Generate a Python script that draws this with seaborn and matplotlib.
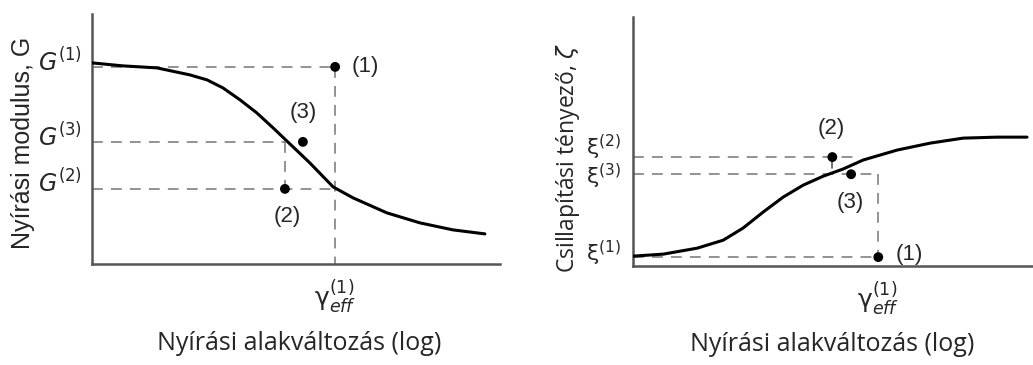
"""
Schematic: shear modulus and damping ratio vs. log shear strain (two panels).
"""

import matplotlib
matplotlib.use("Agg")
import matplotlib.pyplot as plt
import seaborn as sns
import pandas as pd

# Left panel: shear modulus curve (arbitrary units 0-100)
g_x = [0, 7.6, 15.9, 24.0, 28.2, 32.1, 36.3, 40.4, 44.4, 48.0, 53.4, 59.1, 64.0, 72.3, 80.4, 88.5, 96.3]
g_y = [80.4, 79.2, 78.4, 75.6, 73.6, 70.4, 65.6, 60.4, 54.4, 48.8, 40.4, 30.8, 26.4, 20.4, 16.4, 13.6, 12.0]
g_pts_x = [59.6, 47.3, 51.7]          # points (1), (2), (3)
g_pts_y = [78.8, 30.0, 48.8]
g_levels = [78.8, 30.0, 48.8]         # G(1), G(2), G(3)
g_labels = [r"$G^{(1)}$", r"$G^{(2)}$", r"$G^{(3)}$"]

# Right panel: damping ratio curve
d_x = [0, 7.5, 16.0, 22.5, 27.5, 32.5, 37.5, 42.5, 47.5, 52.5, 57.5, 66.0, 74.3, 82.5, 91.0, 98.5]
d_y = [4.0, 4.8, 7.2, 10.4, 15.3, 21.7, 27.7, 32.5, 36.1, 39.0, 42.6, 46.6, 49.4, 51.4, 51.8, 51.8]
d_pts_x = [61.3, 49.8, 54.5]
d_pts_y = [3.6, 43.8, 36.9]
d_levels = [3.6, 43.8, 36.9]
d_labels = [r"$\mathrm{\xi}^{(1)}$", r"$\mathrm{\xi}^{(2)}$", r"$\mathrm{\xi}^{(3)}$"]

pt_names = ["(1)", "(2)", "(3)"]
gamma_label = r"$\mathrm{\gamma}_{\mathit{eff}}^{(1)}$"
xlabel = "Nyírási alakváltozás (log)"

sns.set_theme(style="white")
plt.rcParams["font.family"] = ["Liberation Sans", "DejaVu Sans"]
plt.rcParams["mathtext.fontset"] = "dejavusans"

fig = plt.figure(figsize=(10.33, 3.65), dpi=100)
ax1 = fig.add_axes([0.089, 0.277, 0.395, 0.685])
ax2 = fig.add_axes([0.613, 0.271, 0.387, 0.682])

dash = dict(color="#8a8a8a", lw=1.3, ls=(0, (6, 4.5)), zorder=1)
axis_col = "#555555"

for ax in (ax1, ax2):
    ax.set_xlim(0, 100)
    ax.set_ylim(0, 100)
    ax.set_xticks([])
    ax.set_yticks([])
    for s in ("top", "right"):
        ax.spines[s].set_visible(False)
    for s in ("left", "bottom"):
        ax.spines[s].set_color(axis_col)
        ax.spines[s].set_linewidth(1.8)

# ---- left panel
df_g = pd.DataFrame({"x": g_x, "y": g_y})
sns.lineplot(data=df_g, x="x", y="y", ax=ax1, color="black", lw=2.2, zorder=3,
             solid_joinstyle="round")
sns.scatterplot(x=g_pts_x, y=g_pts_y, ax=ax1, color="black", s=50, zorder=4, edgecolor="none")

# guide lines
ax1.plot([0, g_pts_x[0]], [g_levels[0], g_levels[0]], **dash)
ax1.plot([g_pts_x[0], g_pts_x[0]], [g_levels[0], 0], **dash)
ax1.plot([0, g_pts_x[1]], [g_levels[2], g_levels[2]], **dash)
ax1.plot([0, g_pts_x[0]], [g_levels[1], g_levels[1]], **dash)
ax1.plot([g_pts_x[1], g_pts_x[1]], [g_levels[2], g_levels[1]], **dash)

ax1.text(-2.5, g_levels[0] + 2, g_labels[0], ha="right", va="center", fontsize=17)
ax1.text(-2.5, g_levels[2] + 2, g_labels[2], ha="right", va="center", fontsize=17)
ax1.text(-2.5, g_levels[1] + 2.5, g_labels[1], ha="right", va="center", fontsize=17)

ax1.text(67.0, 78.8, pt_names[0], ha="center", va="center", fontsize=16)
ax1.text(51.7, 60.4, pt_names[2], ha="center", va="center", fontsize=16)
ax1.text(47.8, 18.8, pt_names[1], ha="center", va="center", fontsize=16)

ax1.text(g_pts_x[0], -0.13, gamma_label, transform=ax1.get_xaxis_transform(),
         ha="center", va="center", fontsize=18)
ax1.set_xlabel("")
ax1.set_ylabel("")

# ---- right panel
df_d = pd.DataFrame({"x": d_x, "y": d_y})
sns.lineplot(data=df_d, x="x", y="y", ax=ax2, color="black", lw=2.2, zorder=3,
             solid_joinstyle="round")
sns.scatterplot(x=d_pts_x, y=d_pts_y, ax=ax2, color="black", s=50, zorder=4, edgecolor="none")

ax2.plot([0, 56], [d_levels[1], d_levels[1]], **dash)
ax2.plot([0, d_pts_x[0]], [d_levels[2], d_levels[2]], **dash)
ax2.plot([0, d_pts_x[0]], [d_levels[0], d_levels[0]], **dash)
ax2.plot([d_pts_x[0], d_pts_x[0]], [d_levels[2], 0], **dash)
ax2.plot([d_pts_x[1], d_pts_x[1]], [d_pts_y[1], 39.5], color="#555555", lw=1.2, zorder=2)

ax2.text(-3, d_levels[1] + 4, d_labels[1], ha="right", va="center", fontsize=16)
ax2.text(-3, d_levels[2] - 1, d_labels[2], ha="right", va="center", fontsize=16)
ax2.text(-3, d_levels[0] + 1.5, d_labels[0], ha="right", va="center", fontsize=16)

ax2.text(49.5, 55.4, pt_names[1], ha="center", va="center", fontsize=16)
ax2.text(54.3, 25.7, pt_names[2], ha="center", va="center", fontsize=16)
ax2.text(69.0, 4.5, pt_names[0], ha="center", va="center", fontsize=16)

ax2.text(d_pts_x[0], -0.13, gamma_label, transform=ax2.get_xaxis_transform(),
         ha="center", va="center", fontsize=18)
ax2.set_xlabel("")
ax2.set_ylabel("")

# axis titles as figure text
sans = ["Open Sans", "DejaVu Sans"]
fig.text(0.290, 0.060, xlabel, ha="center", va="center", fontsize=18, family=sans)
fig.text(0.806, 0.055, xlabel, ha="center", va="center", fontsize=18, family=sans)
fig.text(0.022, 0.608, "Nyírási modulus, G", rotation=90, ha="center", va="center", fontsize=18)
fig.text(0.550, 0.567, r"Csillapítási tényező, $\zeta$", rotation=90, ha="center", va="center",
         fontsize=16.5, family=sans)

fig.savefig("out.png", dpi=100)
plt.close(fig)
